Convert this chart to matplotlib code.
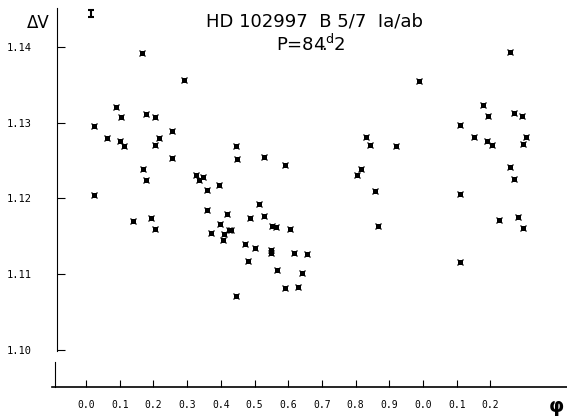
import numpy as np
import matplotlib
matplotlib.use('Agg')
import matplotlib.pyplot as plt

phase = [0.167, 0.290, 0.090, 0.103, 0.177, 0.204, 0.023, 0.062, 0.218, 0.256,
         0.100, 0.113, 0.205, 0.255, 0.445, 0.449, 0.527, 0.591, 0.168, 0.179,
         0.327, 0.334, 0.347, 0.358, 0.395, 0.025, 0.988, 0.831, 0.844, 0.921,
         0.817, 0.805, 0.857, 0.139, 0.193, 0.205, 0.360, 0.398, 0.371, 0.418,
         0.409, 0.407, 0.425, 0.431, 0.514, 0.487, 0.527, 0.473, 0.501, 0.481,
         0.548, 0.548, 0.552, 0.565, 0.604, 0.616, 0.566, 0.591, 0.445, 0.628,
         0.655, 0.642, 0.867]
dv = [1.1392, 1.1356, 1.1321, 1.1307, 1.1311, 1.1307, 1.1295, 1.1280, 1.1280, 1.1289,
      1.1275, 1.1269, 1.1271, 1.1253, 1.1269, 1.1252, 1.1254, 1.1244, 1.1239, 1.1224,
      1.1231, 1.1224, 1.1228, 1.1211, 1.1218, 1.1204, 1.1355, 1.1281, 1.1270, 1.1269,
      1.1239, 1.1231, 1.1210, 1.1170, 1.1174, 1.1159, 1.1184, 1.1166, 1.1154, 1.1179,
      1.1153, 1.1145, 1.1158, 1.1158, 1.1193, 1.1174, 1.1177, 1.1140, 1.1135, 1.1117,
      1.1132, 1.1128, 1.1164, 1.1162, 1.1160, 1.1128, 1.1105, 1.1082, 1.1071, 1.1083,
      1.1127, 1.1102, 1.1164]

# repeated part drawn after phase 1.0 (phase as read on the second 0.0-0.2 scale)
phase_rep = [0.257, 0.178, 0.192, 0.269, 0.295, 0.111, 0.152, 0.190, 0.204, 0.307,
             0.296, 0.257, 0.271, 0.111, 0.109, 0.226, 0.283, 0.296]
dv_rep = [1.1393, 1.1323, 1.1308, 1.1313, 1.1309, 1.1297, 1.1281, 1.1276, 1.1271, 1.1281,
          1.1272, 1.1241, 1.1226, 1.1206, 1.1116, 1.1172, 1.1176, 1.1161]

# typical error bar
err_phase, err_dv, err_size = 0.015, 1.1444, 0.0005

xticks = [0.0, 0.1, 0.2, 0.3, 0.4, 0.5, 0.6, 0.7, 0.8, 0.9, 1.0, 1.1, 1.2]
xlabels = ['0.0', '0.1', '0.2', '0.3', '0.4', '0.5', '0.6', '0.7', '0.8', '0.9',
           '0.0', '0.1', '0.2']
yticks = [1.10, 1.11, 1.12, 1.13, 1.14]

W, H = 567, 417
fig = plt.figure(figsize=(W / 100, H / 100), dpi=100)
ax = fig.add_axes([52 / W, 30 / H, 1 - 52 / W, (387 - 8) / H])

x_all = np.concatenate([phase, 1.0 + np.array(phase_rep)])
y_all = np.concatenate([dv, dv_rep])
ax.plot(x_all, y_all, 's', color='black', ms=3.6, mew=0)
ax.plot(x_all, y_all, 'x', color='black', ms=5, mew=0.9)
ax.errorbar([err_phase], [err_dv], yerr=[err_size], fmt='none', ecolor='black',
            elinewidth=1.5, capsize=2.0, capthick=1.5)

ax.set_xlim((52 - 86) / 337, (567 - 86) / 337)
ax.set_ylim(1.14 - (387 - 46.7) / 7583, 1.14 + (46.7 - 8) / 7583)

for s in ['top', 'right']:
    ax.spines[s].set_visible(False)
ax.spines['left'].set_position(('data', (57 - 86) / 337))
ax.spines['left'].set_bounds(1.0999, ax.get_ylim()[1])
ax.spines['bottom'].set_linewidth(1.2)
# lower piece of the broken y axis
ax.plot([(55 - 52) / (W - 52)] * 2, [0, (387 - 362) / 379], color='black', lw=0.8,
        transform=ax.transAxes, clip_on=False)

ax.set_xticks(xticks)
ax.set_xticklabels(xlabels, family='DejaVu Sans Mono', fontsize=7)
ax.set_yticks(yticks)
ax.set_yticklabels(['%.2f' % v for v in yticks], family='DejaVu Sans Mono', fontsize=7.5)
ax.tick_params(axis='x', direction='in', length=5, width=0.8, pad=9)
ax.tick_params(axis='y', direction='in', length=6, width=0.8, pad=18)

fig.text(38 / W, 1 - 23 / H, 'ΔV', fontsize=12, ha='center', va='center')
fig.text(556 / W, 1 - 406 / H, 'φ', fontsize=14, ha='center', va='center', weight='bold')
fig.text(314 / W, 1 - 22 / H, 'HD 102997  B 5/7  Ia/ab', fontsize=13,
         ha='center', va='center')
fig.text(311 / W, 1 - 44 / H, r'P=84$\!.\!\!^{\mathdefault{d}}$2', fontsize=13,
         ha='center', va='center')

fig.savefig('out.png', dpi=100)
